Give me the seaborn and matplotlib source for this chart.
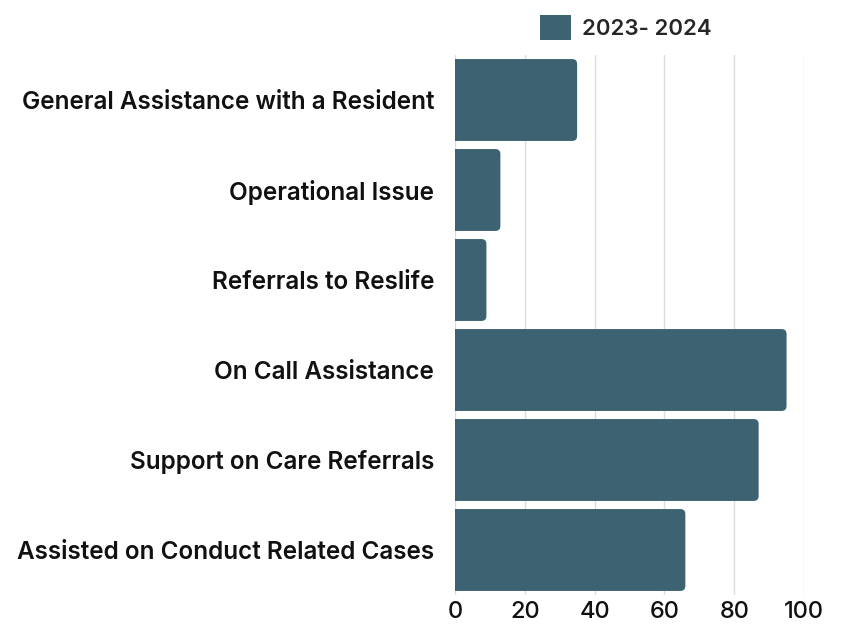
import matplotlib
matplotlib.use("Agg")
import matplotlib.pyplot as plt
import seaborn as sns
import pandas as pd
from matplotlib.patches import FancyBboxPatch, Patch

categories = [
    "General Assistance with a Resident",
    "Operational Issue",
    "Referrals to Reslife",
    "On Call Assistance",
    "Support on Care Referrals",
    "Assisted on Conduct Related Cases",
]
counts_2023_2024 = [35, 13, 9, 95, 87, 66]
series_name = "2023- 2024"
x_ticks = [0, 20, 40, 60, 80, 100]

BAR_COLOR = "#3d6272"

sns.set_theme(style="white")
plt.rcParams["font.family"] = ["Inter", "DejaVu Sans"]

df = pd.DataFrame({"category": categories, "count": counts_2023_2024})

fig = plt.figure(figsize=(8.41, 6.27), dpi=100)
ax = fig.add_axes([455 / 841, 1 - 595 / 627, (804 - 455) / 841, (595 - 55) / 627])

sns.barplot(data=df, x="count", y="category", color=BAR_COLOR, width=0.91,
            saturation=1, ax=ax, zorder=3)

ax.set_xlim(0, 100)
ax.set_ylim(5.5, -0.5)

# swap plain rectangles for bars with rounded ends
px_per_x = (804 - 455) / 100
px_per_y = (595 - 55) / 6
radius_x = 5 / px_per_x
for p in list(ax.patches):
    x0, y0 = p.get_x(), p.get_y()
    w, h = p.get_width(), p.get_height()
    p.remove()
    fb = FancyBboxPatch((x0 - 3, y0), w + 3, h,
                        boxstyle=f"round,pad=0,rounding_size={radius_x}",
                        mutation_aspect=px_per_x / px_per_y,
                        facecolor=BAR_COLOR, edgecolor="none", zorder=3)
    ax.add_patch(fb)

ax.set_xticks(x_ticks)
ax.set_xticklabels([str(t) for t in x_ticks])
ax.grid(axis="x", color="#dcdcdc", linewidth=1.0, zorder=0)
ax.grid(axis="y", visible=False)
for s in ax.spines.values():
    s.set_visible(False)

ax.set_xlabel("")
ax.set_ylabel("")
ax.tick_params(axis="x", length=0, pad=4, labelsize=17, colors="#111111")
ax.tick_params(axis="y", length=0, pad=15, labelsize=17.5, colors="#111111")
for lab in ax.get_yticklabels():
    lab.set_fontweight("semibold")
for lab in ax.get_xticklabels():
    lab.set_fontweight("medium")

handle = Patch(facecolor=BAR_COLOR, edgecolor="none")
leg = ax.legend([handle], [series_name], loc="lower center",
                bbox_to_anchor=(0.49, 0.99), frameon=False,
                handlelength=1.4, handleheight=1.4, handletextpad=0.5,
                prop={"size": 16, "weight": "semibold"})

fig.savefig("out.png", dpi=100, facecolor="white")
